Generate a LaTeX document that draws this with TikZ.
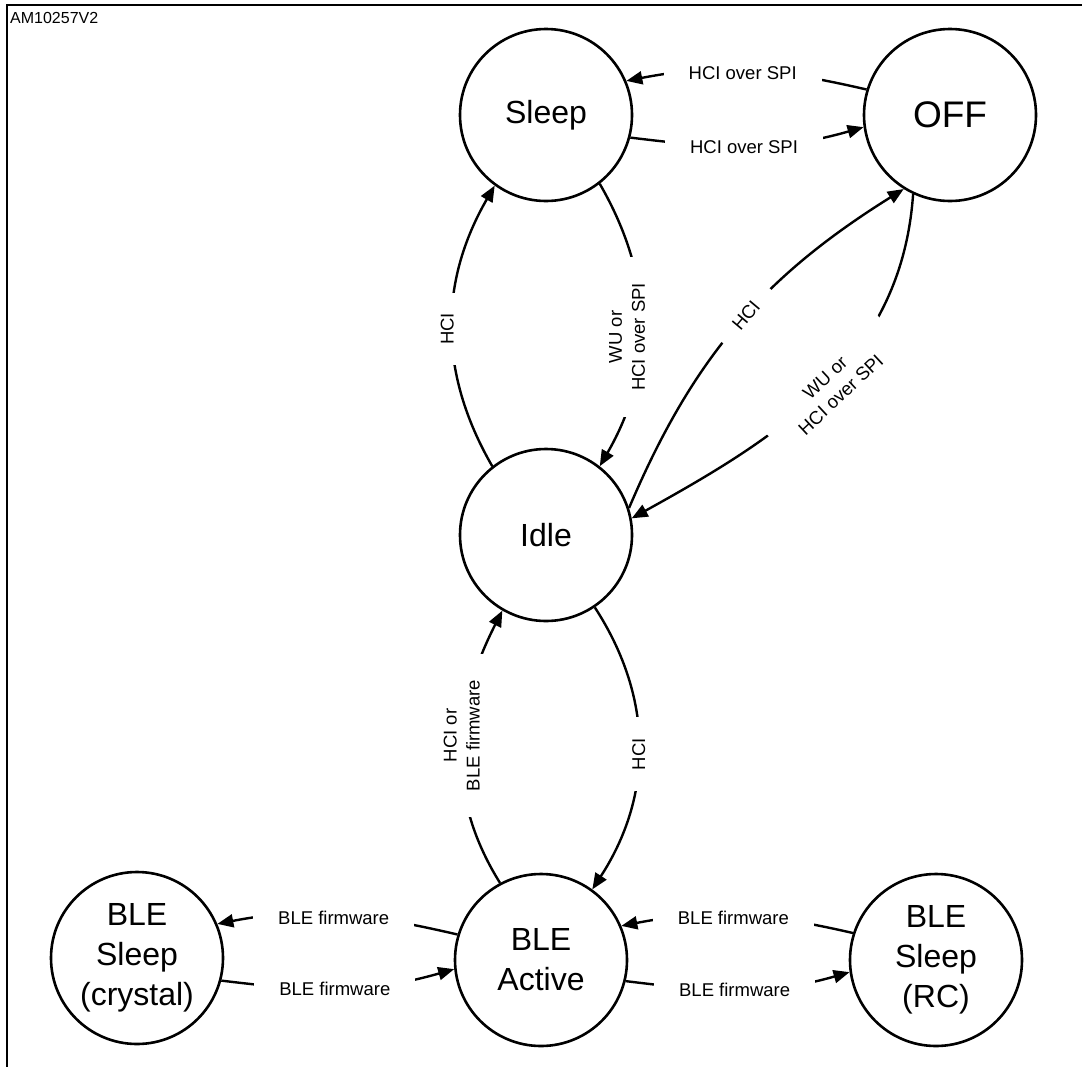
\documentclass[tikz,border=0pt]{standalone}
\usepackage{fontspec}
\setmainfont{Liberation Sans}
\usetikzlibrary{arrows.meta}
\begin{document}
\begin{tikzpicture}[x=1pt,y=1pt,
  state/.style={draw,line width=2.6pt,circle,minimum size=172pt,inner sep=0pt,align=center,font=\fontsize{32}{40}\selectfont},
  arr/.style={line width=2.4pt,-{Triangle[length=16pt,width=13pt]}},
  lbl/.style={fill=white,inner xsep=25pt,inner ysep=4pt,align=center,font=\fontsize{18.5}{23}\selectfont},
  frameline/.style={line width=2.6pt}]
\useasboundingbox (0,0) rectangle (1082,-1066);
\draw[frameline] (7,-1070) -- (7,-5) -- (1090,-5);
\node[anchor=base west,font=\fontsize{16}{18}\selectfont,inner sep=0pt] (code) at (10,-23) {AM10257V2};

\node[state] (sleep) at (546,-115) {Sleep};
\node[state,font=\fontsize{37}{40}\selectfont] (off) at (950,-115) {OFF};
\node[state] (idle) at (546,-535) {Idle};
\node[state] (active) at (541,-960) {BLE\\Active};
\node[state] (crystal) at (137,-958) {BLE\\Sleep\\(crystal)};
\node[state] (rc) at (936,-960) {BLE\\Sleep\\(RC)};

\draw[arr] (off.163) to[out=167,in=11] node[lbl,xshift=-4pt,yshift=-3pt]{HCI over SPI} (sleep.23);
\draw[arr] (sleep.-15) to[out=-7,in=196] node[lbl,xshift=-4pt,yshift=-1pt]{HCI over SPI} (off.188);
\draw[arr] (sleep.-52) to[out=-60,in=60] node[lbl,inner xsep=26pt,xshift=-14pt,yshift=-12pt,rotate=90]{WU or\\HCI over SPI} (idle.52);
\draw[arr] (idle.128) to[out=120,in=240] node[lbl,inner xsep=20pt,xshift=-5pt,yshift=-3pt,rotate=90]{HCI} (sleep.234);
\draw[arr] (idle.18) to[out=67,in=212] node[lbl,pos=0.53,inner xsep=20pt,rotate=50]{HCI} (off.238);
\draw[arr] (off.245) to[out=266,in=29] node[lbl,pos=0.48,inner xsep=27pt,xshift=4pt,yshift=-4pt,rotate=43]{WU or\\HCI over SPI} (idle.11);
\draw[arr] (idle.-56) to[out=-57,in=57] node[lbl,inner xsep=21pt,yshift=-6pt,rotate=90]{HCI} (active.54);
\draw[arr] (active.118) to[out=122,in=243] node[lbl,inner xsep=26pt,yshift=13pt,rotate=90]{HCI or\\BLE firmware} (idle.240);
\draw[arr] (active.163) to[out=167,in=11] node[lbl,xshift=-4pt,yshift=-3pt]{BLE firmware} (crystal.23);
\draw[arr] (crystal.-15) to[out=-7,in=196] node[lbl,xshift=-4pt]{BLE firmware} (active.186);
\draw[arr] (rc.162) to[out=167,in=11] node[lbl,xshift=-4pt,yshift=-3pt]{BLE firmware} (active.23);
\draw[arr] (active.-14) to[out=-7,in=196] node[lbl,xshift=-4pt]{BLE firmware} (rc.188);
\end{tikzpicture}
\end{document}
